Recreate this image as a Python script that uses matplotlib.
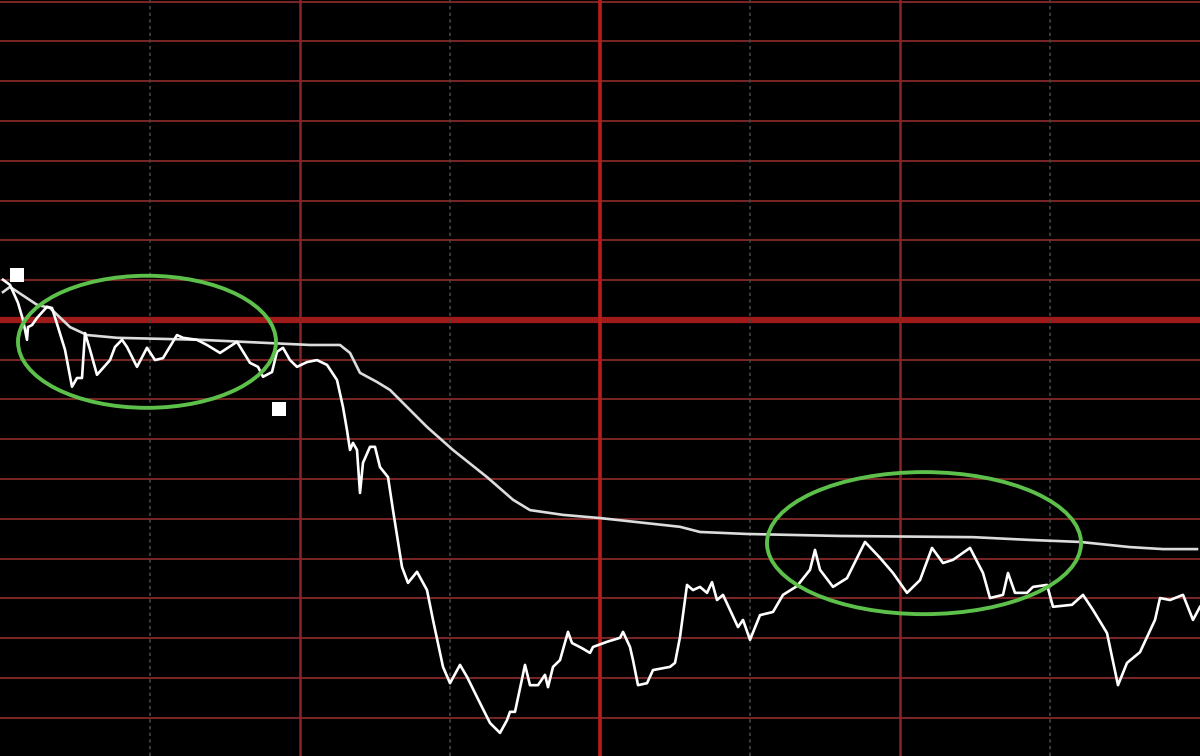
import matplotlib
matplotlib.use("Agg")
import matplotlib.pyplot as plt
from matplotlib.patches import Ellipse

# time in minutes of the session (0..240), value in % change vs previous close
price_t = [0.6, 2, 3.6, 4.6, 5.4, 5.6, 6.4, 7.4, 9.4, 10.4, 11.6, 13, 14.4, 15.4, 16.4, 17, 18, 19.4,
           22, 23, 24.4, 25.4, 27.4, 29.4, 31, 32.6, 35.4, 36.6, 39.4, 41.4, 44, 47.4, 50, 51.6,
           52.6, 54.4, 55.4, 56.6, 58, 59.4, 61.4, 63.4, 65.4, 67.4, 68.6, 69.4, 70, 70.6, 71.4,
           72, 72.6, 74, 75, 76, 77.6, 78.6, 80.4, 81.6, 83.4, 85.4, 86.6, 88.6, 90, 92, 93.4, 96,
           98, 100, 101.4, 102, 103, 105, 106, 107.6, 109, 109.6, 110.6, 112, 113.6, 114.4, 116.4,
           118, 118.6, 121.4, 124, 124.6, 126, 126.6, 127.6, 129.4, 130.6, 134, 135, 136, 137.4,
           138.6, 140, 141.4, 142.4, 143.4, 144.6, 147.6, 148.6, 150, 152, 154.6, 156.6, 159.4,
           162, 163, 164, 166.6, 169.4, 173, 176, 178.6, 181.4, 184, 186.4, 188.6, 190.6, 194,
           196.6, 198, 200.6, 201.6, 203, 205.4, 206.6, 209.4, 210.6, 214.4, 216.6, 218.6, 221.4,
           223.6, 225.4, 228, 231, 232, 234, 236.6, 238.6, 240]
price_v = [1.01, 0.88, 0.43, 0.00, -0.50, -0.18, -0.13, 0.05, 0.33, 0.30, -0.18, -0.75, -1.68, -1.46,
           -1.46, -0.33, -0.75, -1.38, -1.01, -0.68, -0.50, -0.68, -1.18, -0.70, -1.01, -0.96,
           -0.38, -0.45, -0.50, -0.63, -0.83, -0.55, -1.08, -1.18, -1.43, -1.31, -0.80, -0.70,
           -1.01, -1.18, -1.06, -1.01, -1.13, -1.51, -2.19, -2.77, -3.27, -3.09, -3.27, -4.35,
           -3.59, -3.19, -3.19, -3.70, -3.95, -4.78, -6.21, -6.61, -6.33, -6.79, -7.54, -8.72,
           -9.13, -8.67, -8.97, -9.63, -10.13, -10.38, -10.06, -9.85, -9.85, -8.67, -9.18, -9.18,
           -8.92, -9.23, -8.72, -8.55, -7.84, -8.12, -8.25, -8.37, -8.22, -8.09, -7.99, -7.84,
           -8.22, -8.55, -9.18, -9.13, -8.80, -8.72, -8.62, -7.97, -6.66, -6.79, -6.71, -6.86,
           -6.59, -7.04, -6.91, -7.72, -7.54, -8.04, -7.42, -7.34, -6.91, -6.69, -6.28, -5.78,
           -6.28, -6.71, -6.49, -5.58, -5.98, -6.36, -6.86, -6.54, -5.73, -6.11, -6.03, -5.73,
           -6.36, -6.99, -6.91, -6.36, -6.86, -6.86, -6.71, -6.66, -7.21, -7.16, -6.91, -7.29,
           -7.87, -9.18, -8.62, -8.35, -7.54, -6.99, -7.04, -6.91, -7.54, -7.21]

avg_t = [0.6, 2, 7.4, 10, 14, 17.4, 23.4, 40, 62, 68, 70, 72, 75.4, 78, 85.4, 90.6, 97.4, 102.6,
         106, 112.6, 120, 136, 140, 149.4, 168, 194.6, 206, 216, 226, 232.6, 239.4]
avg_v = [0.70, 0.83, 0.38, 0.30, -0.18, -0.38, -0.45, -0.50, -0.63, -0.63, -0.83, -1.33, -1.56,
         -1.76, -2.69, -3.27, -3.95, -4.52, -4.78, -4.90, -4.98, -5.20, -5.33, -5.38, -5.43,
         -5.46, -5.53, -5.58, -5.71, -5.76, -5.76]

# annotation marks (time, value)
square_t = [3.4, 55.8]
square_v = [1.13, -2.24]
ellipse_center_t = [29.4, 184.8]
ellipse_center_v = [-0.55, -5.61]
ellipse_width_t = [51.6, 62.8]
ellipse_height_v = [3.32, 3.57]

grid_levels = list(range(-10, 9))
solid_times = [60, 120, 180]
dotted_times = [30, 90, 150, 210]

fig = plt.figure(figsize=(12, 7.56), dpi=100)
fig.patch.set_facecolor("black")
ax = fig.add_axes([0, 0, 1, 1])
ax.set_facecolor("#030000")
ax.set_xlim(0, 240)
ax.set_ylim(-10.96, 8.04)
ax.axis("off")

for lv in grid_levels:
    if lv == 0:
        ax.axhline(lv, color="#a01a1a", lw=4.5, zorder=1)
    else:
        ax.axhline(lv, color="#762424", lw=1.5, zorder=1)
for t in solid_times:
    lw = 2.6 if t == 120 else 1.8
    col = "#b81c1c" if t == 120 else "#8a2424"
    ax.axvline(t, color=col, lw=lw, zorder=1)
for t in dotted_times:
    ax.axvline(t, color="#454545", lw=1.2, ls=(0, (2, 2)), zorder=1)

ax.plot(avg_t, avg_v, color="#dcdcdc", lw=1.9, zorder=3, solid_joinstyle="round")
ax.plot(price_t, price_v, color="white", lw=1.9, zorder=4, solid_joinstyle="round")

for ct, cv, w, h in zip(ellipse_center_t, ellipse_center_v, ellipse_width_t, ellipse_height_v):
    ax.add_patch(Ellipse((ct, cv), w, h, fill=False, edgecolor="#5cc04a", lw=2.8, zorder=5))

ax.scatter(square_t, square_v, marker="s", s=90, color="white", zorder=6, linewidths=0)

fig.savefig("out.png", dpi=100, facecolor="black")
